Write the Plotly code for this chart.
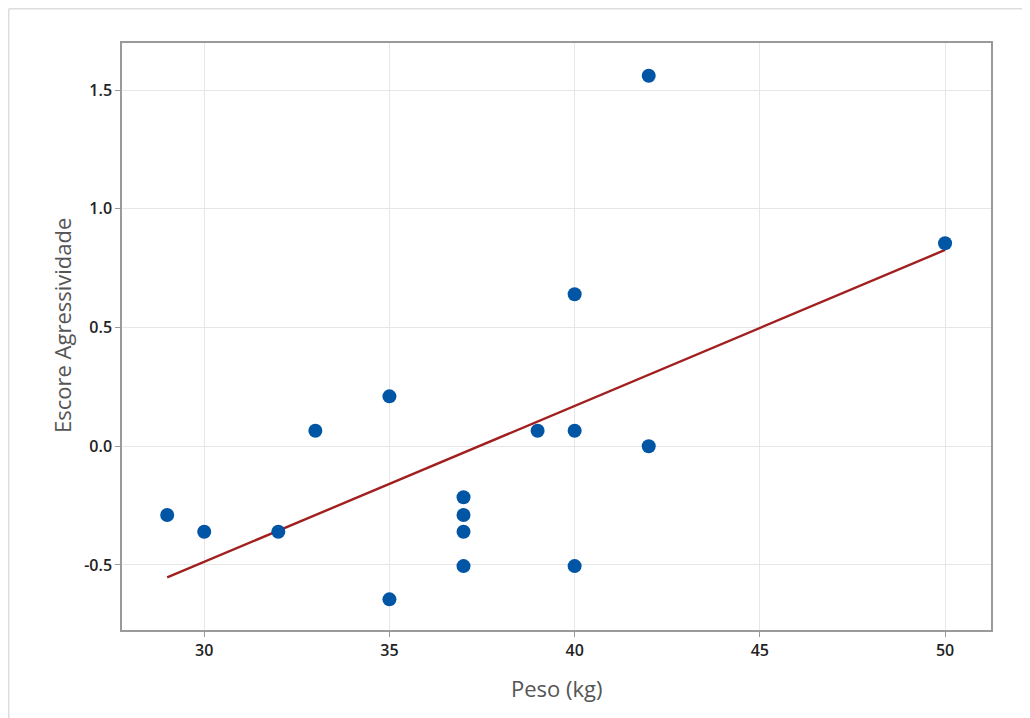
import numpy as np
import plotly.graph_objects as go

peso = [29, 30, 32, 33, 35, 35, 37, 37, 37, 37, 39, 40, 40, 40, 42, 42, 50]
escore = [-0.29, -0.36, -0.36, 0.065, 0.21, -0.645, -0.215, -0.29, -0.36, -0.505,
          0.065, 0.64, 0.065, -0.505, 1.56, 0.0, 0.855]

x_ticks = [30, 35, 40, 45, 50]
y_ticks = [-0.5, 0.0, 0.5, 1.0, 1.5]
y_tick_labels = ["-0.5", "0.0", "0.5", "1.0", "1.5"]

slope, intercept = np.polyfit(peso, escore, 1)
fit_x = [min(peso), max(peso)]
fit_y = [slope * v + intercept for v in fit_x]

# page body has an 8px margin, so the figure starts at (8, 8)
W, H = 1022, 710
ml, mr, mt, mb = 114, 39, 35, 88
pw, ph = W - ml - mr, H - mt - mb

def px(xp):
    return (xp - ml) / pw

def py(yp):
    return (H - mb - yp) / ph

fig = go.Figure()
fig.add_trace(go.Scatter(
    x=fit_x, y=fit_y, mode="lines",
    line=dict(color="#A11F1F", width=2.4),
    hoverinfo="skip", showlegend=False,
))
fig.add_trace(go.Scatter(
    x=peso, y=escore, mode="markers",
    marker=dict(color="#0055A5", size=14, line=dict(width=0)),
    showlegend=False,
))

axis_common = dict(
    showline=True, linecolor="#9A9A9A", linewidth=1.5, mirror=True,
    showgrid=True, gridcolor="#E6E6E6", gridwidth=1,
    ticks="outside", ticklen=5, tickcolor="#9A9A9A", tickwidth=1,
    zeroline=False,
    tickfont=dict(family="Open Sans", size=16, color="#222222", weight=600),
)

title_font = dict(family="Open Sans", size=22, color="#555555")

fig.update_xaxes(range=[27.78, 51.24], tickvals=x_ticks, **axis_common)
fig.update_yaxes(range=[-0.774, 1.698], tickvals=y_ticks, ticktext=y_tick_labels,
                 **axis_common)

fig.update_layout(
    width=W, height=H,
    margin=dict(l=ml, r=mr, t=mt, b=mb),
    paper_bgcolor="white", plot_bgcolor="white",
    annotations=[
        dict(text="Peso (kg)", xref="paper", yref="paper",
             x=px(548.5), y=py(680), xanchor="center", yanchor="middle",
             showarrow=False, font=title_font),
        dict(text="Escore Agressividade", xref="paper", yref="paper",
             x=px(54), y=py(318), xanchor="center", yanchor="middle",
             textangle=-90, showarrow=False, font=title_font),
    ],
    shapes=[
        dict(type="line", xref="paper", yref="paper",
             x0=px(0.75), x1=px(W), y0=py(0.75), y1=py(0.75),
             line=dict(color="#DDDDDD", width=1.5)),
        dict(type="line", xref="paper", yref="paper",
             x0=px(0.75), x1=px(0.75), y0=py(0.75), y1=py(H),
             line=dict(color="#DDDDDD", width=1.5)),
    ],
)

fig.write_html("out.html")
